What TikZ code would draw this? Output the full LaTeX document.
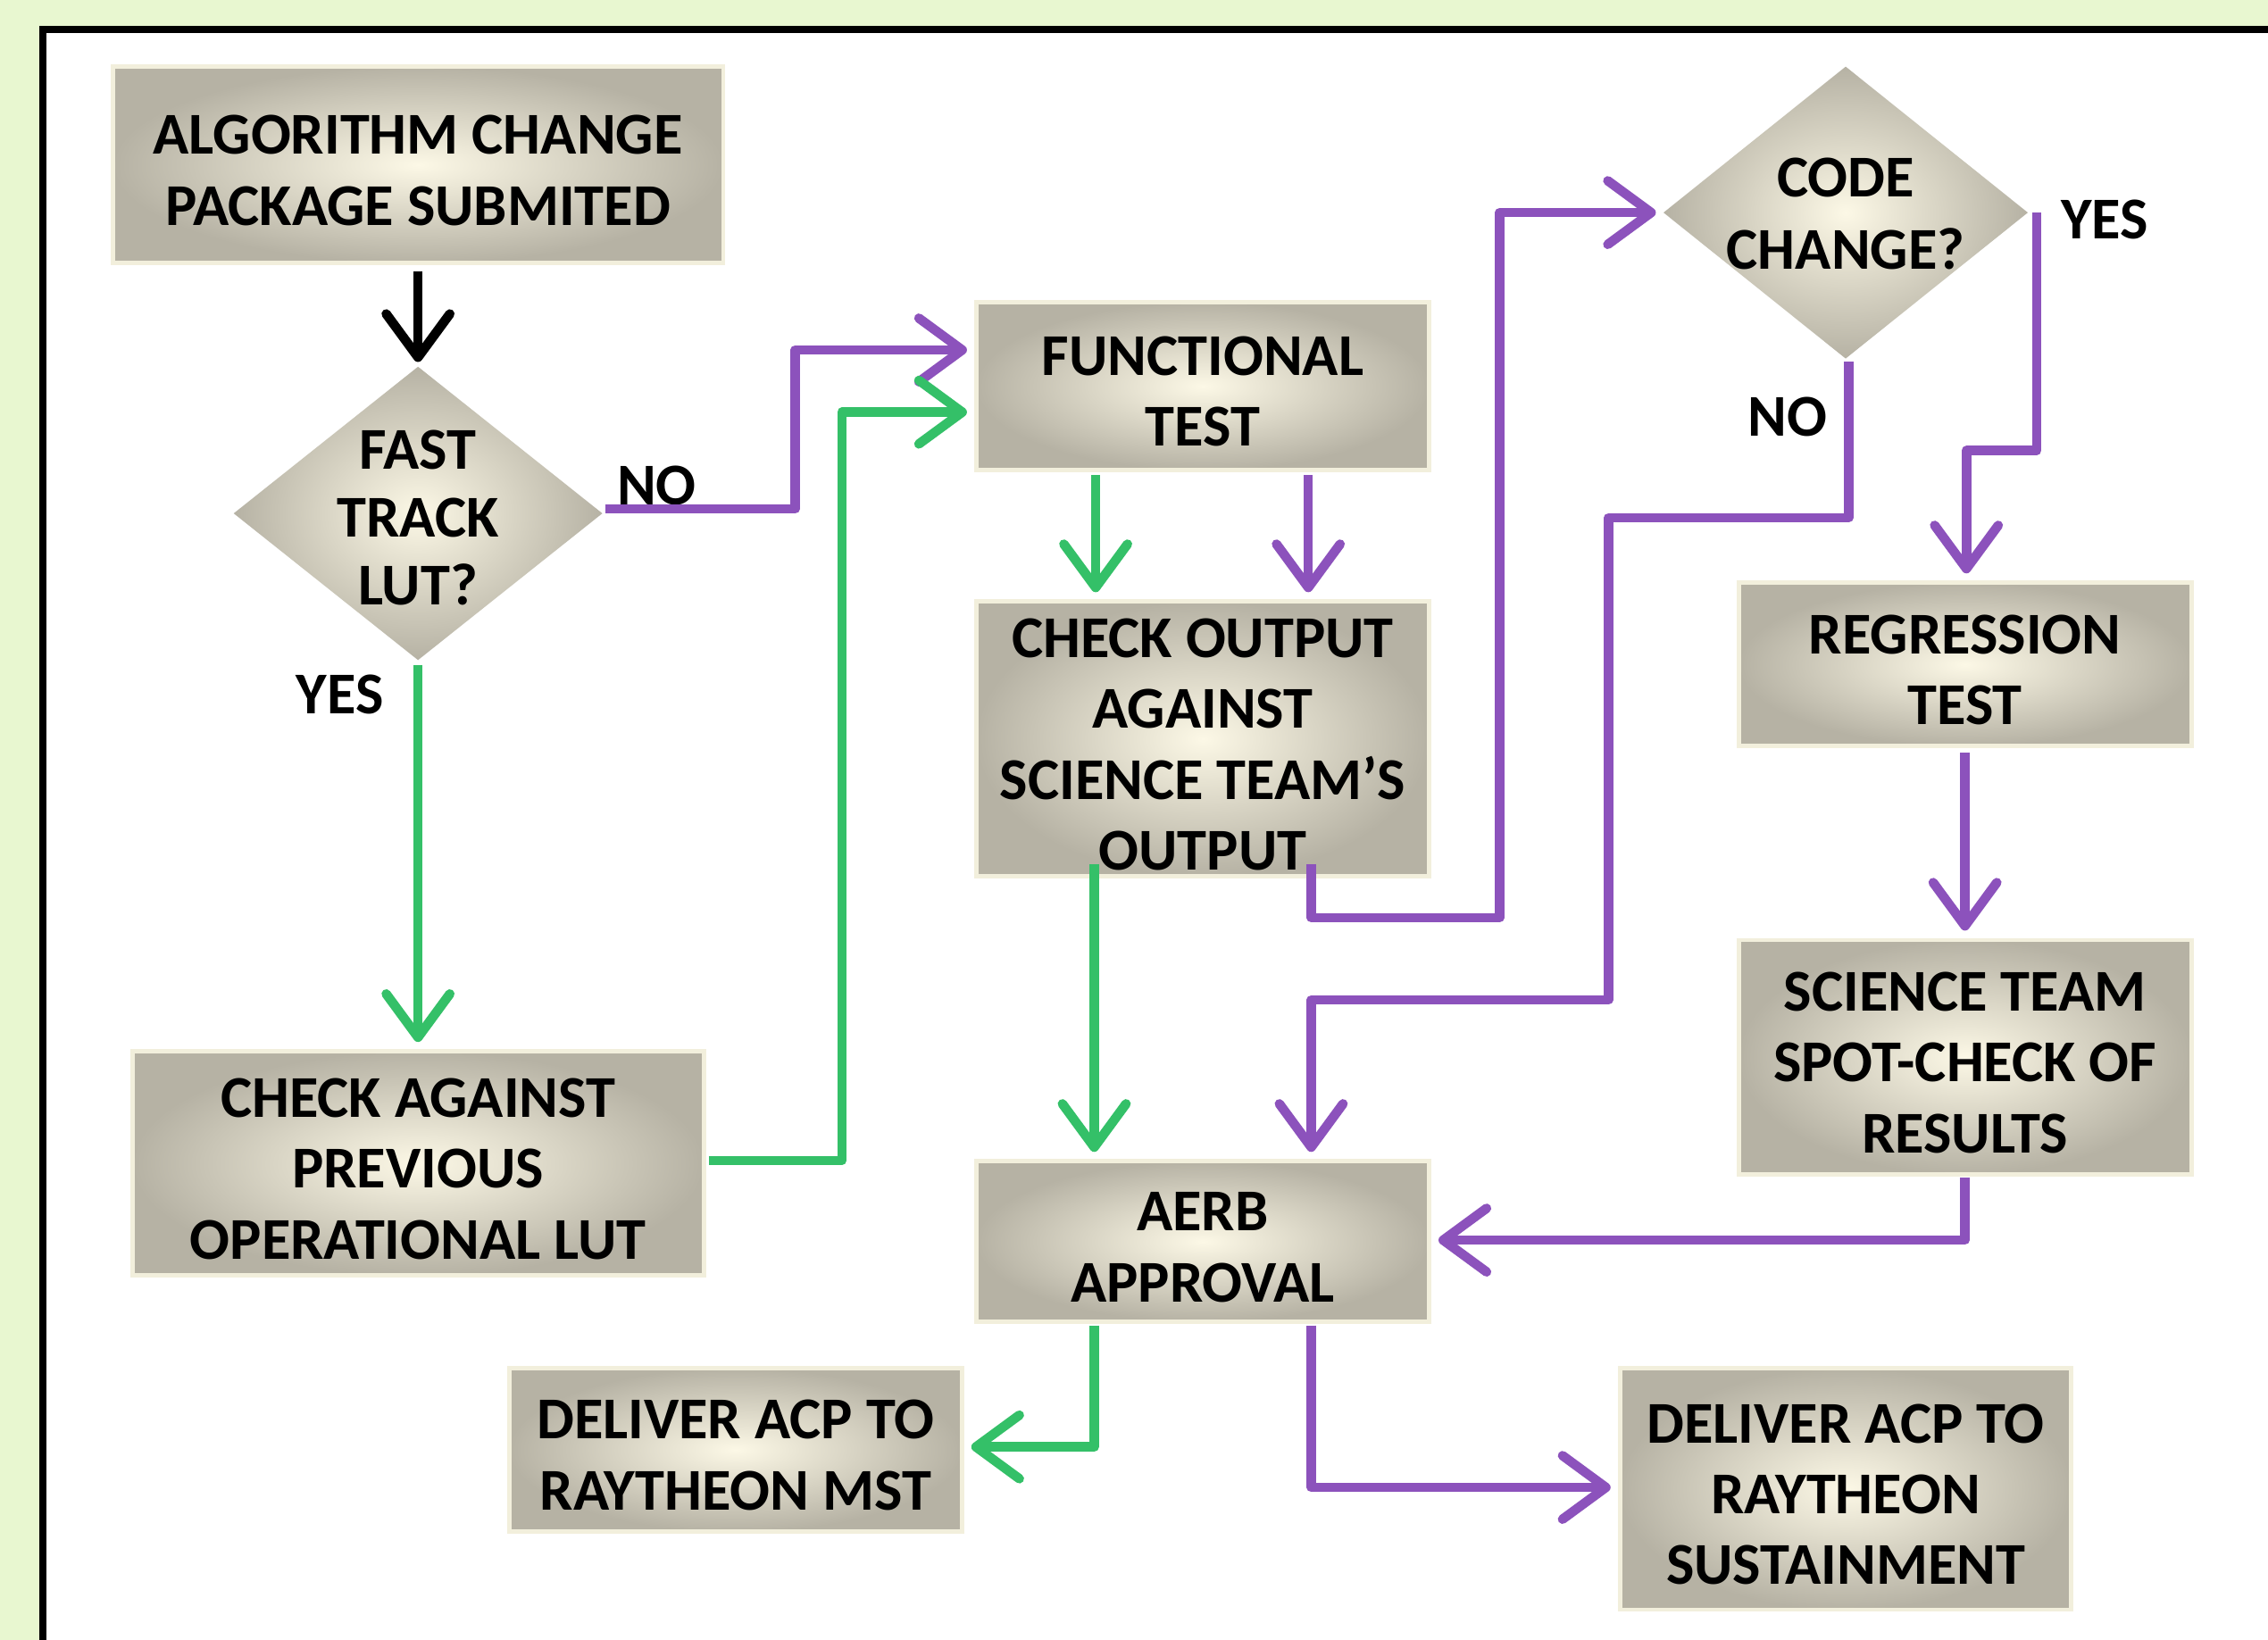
\documentclass[tikz,border=0pt]{standalone}
\usepackage{fontspec}
\setmainfont{Carlito}
\usetikzlibrary{shapes.geometric,arrows.meta,calc}
\definecolor{bggreen}{RGB}{232,247,208}
\definecolor{flowgreen}{RGB}{52,192,104}
\definecolor{flowpurple}{RGB}{140,82,188}
\definecolor{boxin}{RGB}{252,248,230}
\definecolor{boxout}{RGB}{182,178,164}
\definecolor{halo}{RGB}{242,239,220}
\newcommand{\firstlinestrut}{\rule{0pt}{34.5pt}}
\begin{document}
\begin{tikzpicture}[x=1pt,y=-1pt,
  box/.style={rectangle, inner sep=0pt, shading=radial, inner color=boxin, outer color=boxout,
    draw=halo, line width=3pt, align=center, text=black,
    font=\fontsize{41}{49}\selectfont\bfseries},
  dia/.style={diamond, inner sep=0pt, shading=radial, inner color=boxin, outer color=boxout},
  txt/.style={inner sep=0pt, align=center, text=black},
  lbl/.style={inner sep=0pt, text=black, font=\fontsize{41}{49}\selectfont\bfseries},
  arr/.style={-{Straight Barb[length=30pt,width=44pt,round]}, line width=6.5pt, line join=round}]
\useasboundingbox (0,0) rectangle (1568,1134);
\clip (0,0) rectangle (1568,1134);
\fill[bggreen] (0,0) rectangle (1568,1134);
\draw[line width=5pt, fill=white] (29.5,20.5) rectangle (1620,1180);

% nodes
\node[box, minimum width=422pt, minimum height=136pt] (acp) at (289,114) {\firstlinestrut ALGORITHM CHANGE\\PACKAGE SUBMITED};
\node[dia, minimum width=255pt, minimum height=203pt] (fast) at (289,355) {};
\node[txt, font=\fontsize{41}{47}\selectfont\bfseries] (fastt) at (289,358) {FAST\\TRACK\\LUT?};
\node[box, minimum width=395pt, minimum height=155pt] (cap) at (289,804.5) {\firstlinestrut CHECK AGAINST\\PREVIOUS\\OPERATIONAL LUT};
\node[box, minimum width=313pt, minimum height=116pt] (ft) at (831.5,267) {\firstlinestrut FUNCTIONAL\\TEST};
\node[box, minimum width=313pt, minimum height=190pt] (co) at (831.5,511) {\firstlinestrut CHECK OUTPUT\\AGAINST\\SCIENCE TEAM’S\\OUTPUT};
\node[box, minimum width=313pt, minimum height=111pt] (aerb) at (831.5,858.5) {\firstlinestrut AERB\\APPROVAL};
\node[box, minimum width=313pt, minimum height=113pt] (mst) at (508.5,1002.5) {\firstlinestrut DELIVER ACP TO\\RAYTHEON MST};
\node[box, minimum width=312pt, minimum height=167pt] (sust) at (1276,1029.5) {\firstlinestrut DELIVER ACP TO\\RAYTHEON\\SUSTAINMENT};
\node[dia, minimum width=252pt, minimum height=202pt] (code) at (1276,147) {};
\node[txt, font=\fontsize{41}{50}\selectfont\bfseries] (codet) at (1276,148) {CODE\\CHANGE?};
\node[box, minimum width=313pt, minimum height=113pt] (reg) at (1358.5,459.5) {\firstlinestrut REGRESSION\\TEST};
\node[box, minimum width=313pt, minimum height=162pt] (sci) at (1358.5,731) {\firstlinestrut SCIENCE TEAM\\SPOT-CHECK OF\\RESULTS};

% labels
\node[lbl] (no1) at (454,336) {NO};
\node[lbl] (yes1) at (235,480) {YES};
\node[lbl] (yes2) at (1455,152) {YES};
\node[lbl] (no2) at (1236,288) {NO};

% connectors
\draw[arr, black] ($(acp.south)+(0,4)$) -- ($(fast.north)+(0,-3)$);
\draw[arr, flowpurple] ($(fast.east)+(2,-3)$) -- ++(131,0) |- ($(ft.west)+(-5,-25)$);
\draw[arr, flowgreen] ($(fast.south)+(0,3)$) -- ($(cap.north)+(0,-5)$);
\draw[arr, flowgreen] ($(cap.east)+(2,-2)$) -- ++(92,0) |- ($(ft.west)+(-5,18)$);
\draw[arr, flowgreen] ($(ft.south)+(-74,2)$) -- ($(co.north)+(-74,-5)$);
\draw[arr, flowpurple] ($(ft.south)+(73,2)$) -- ($(co.north)+(73,-5)$);
\draw[arr, flowgreen] ($(co.south)+(-75,-10)$) -- ($(aerb.north)+(-75,-5)$);
\draw[arr, flowpurple] ($(co.south)+(75,-10)$) -- ($(co.south)+(75,27)$) -| ($(code.west)+(-113,0)$) -- ($(code.west)+(-5,0)$);
\draw[arr, flowpurple] ($(code.south)+(2,2)$) |- (1112,358) |- ($(aerb.north)+(75,-110)$) -- ($(aerb.north)+(75,-5)$);
\draw[arr, flowpurple] ($(code.east)+(6,0)$) |- ($(reg.north)+(1,-90)$) -- ($(reg.north)+(1,-5)$);
\draw[arr, flowpurple] ($(reg.south)+(0,3)$) -- ($(sci.north)+(0,-5)$);
\draw[arr, flowpurple] ($(sci.south)+(0,1)$) |- ($(aerb.east)+(5,-1)$);
\draw[arr, flowgreen] ($(aerb.south)+(-75,1)$) |- ($(mst.east)+(5,-2)$);
\draw[arr, flowpurple] ($(aerb.south)+(75,1)$) |- ($(sust.west)+(-5,-1)$);
\end{tikzpicture}
\end{document}
